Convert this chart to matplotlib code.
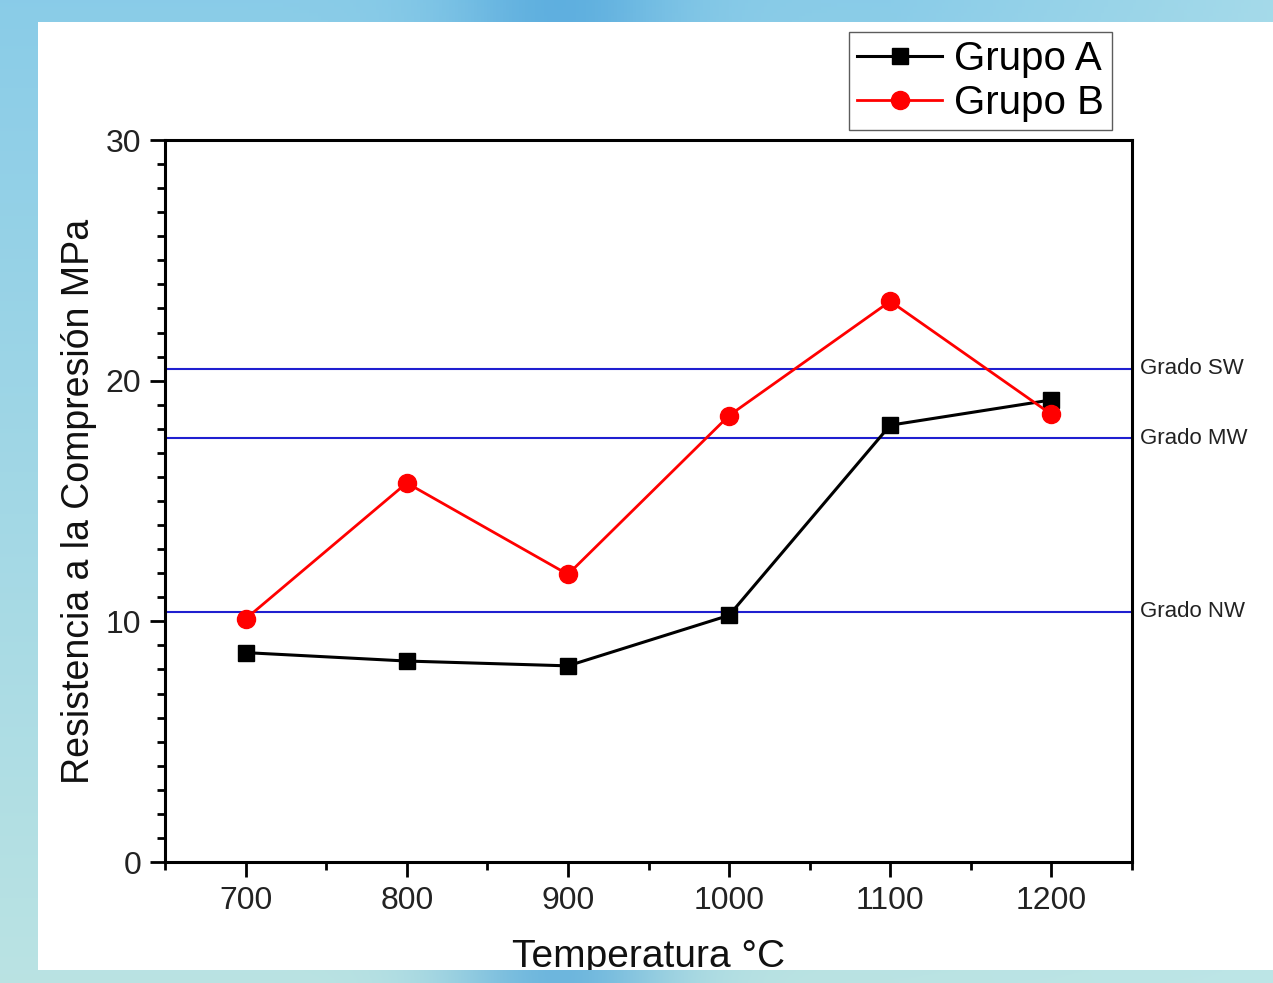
import numpy as np
import matplotlib.pyplot as plt
from matplotlib.patches import Rectangle
from matplotlib.ticker import MultipleLocator
import matplotlib.transforms as mtransforms

plt.rcParams['font.family'] = ['Liberation Sans', 'DejaVu Sans']

# datos
temperatura = [700, 800, 900, 1000, 1100, 1200]
grupo_a = [8.7, 8.35, 8.15, 10.25, 18.15, 19.2]
grupo_b = [10.1, 15.75, 11.95, 18.55, 23.3, 18.6]
grados = ["Grado SW", "Grado MW", "Grado NW"]
grados_valor = [20.5, 17.6, 10.4]

W, H = 1273, 983
fig = plt.figure(figsize=(W / 100, H / 100), dpi=100)

# fondo de la diapositiva (degradado azul)
bg = fig.add_axes([0, 0, 1, 1], zorder=-5)
bg.set_axis_off()
xs = np.linspace(0, 1, 400)
ys = np.linspace(0, 1, 300)
top = np.array([0.54, 0.80, 0.91])
bottom = np.array([0.73, 0.89, 0.89])
img = top[None, None, :] * (1 - ys[:, None, None]) + bottom[None, None, :] * ys[:, None, None]
band = np.exp(-((xs - 0.44) / 0.09) ** 2)
dark = np.array([0.30, 0.64, 0.86])
img = img * (1 - 0.7 * band[None, :, None]) + dark[None, None, :] * 0.7 * band[None, :, None]
right_fade = np.clip((xs - 0.7) / 0.3, 0, 1)
img = img * (1 - 0.5 * right_fade[None, :, None]) + np.array([0.75, 0.91, 0.92]) * 0.5 * right_fade[None, :, None]
bg.imshow(img, extent=[0, 1, 0, 1], aspect='auto', origin='upper')
bg.add_patch(Rectangle((38 / W, 1 - 970 / H), 1, (970 - 22) / H, facecolor='white', edgecolor='none'))
bg.set_xlim(0, 1)
bg.set_ylim(0, 1)

ax = fig.add_axes([165 / W, 1 - 862 / H, (1132 - 165) / W, (862 - 140) / H])

for nombre, v in zip(grados, grados_valor):
    ax.axhline(v, color='#1f1fd0', lw=1.5, zorder=1)
    trans = mtransforms.blended_transform_factory(ax.transAxes, ax.transData)
    ax.text(1.008, v, nombre, transform=trans, fontsize=16, va='center', ha='left', color='#222222')

ax.plot(temperatura, grupo_a, color='black', lw=2.2, marker='s', ms=12, label='Grupo A', zorder=3)
ax.plot(temperatura, grupo_b, color='red', lw=2, marker='o', ms=13, label='Grupo B', zorder=3)

ax.set_xlim(650, 1250)
ax.set_ylim(0, 30)
ax.xaxis.set_major_locator(MultipleLocator(100))
ax.xaxis.set_minor_locator(MultipleLocator(50))
ax.yaxis.set_major_locator(MultipleLocator(10))
ax.yaxis.set_minor_locator(MultipleLocator(1))
ax.tick_params(which='major', direction='out', length=11, width=2, labelsize=23, colors='black', labelcolor='#222222', pad=6)
ax.tick_params(which='minor', direction='out', length=6, width=2)
ax.tick_params(top=False, right=False)
for s in ax.spines.values():
    s.set_linewidth(2.2)

ax.set_xlabel("Temperatura °C", fontsize=28, color='#111111', labelpad=17)
ax.set_ylabel("Resistencia a la Compresión MPa", fontsize=27, color='#111111', labelpad=6)

fig.legend(loc='upper right', bbox_to_anchor=(1112 / W, 1 - 32 / H), fontsize=29, frameon=True,
           fancybox=False, edgecolor='#333333', handlelength=2.1, handletextpad=0.3,
           borderpad=0.2, labelspacing=0.15, borderaxespad=0)

# franja inferior de la diapositiva encima del texto
ov = fig.add_axes([0, 0, 1, 13 / H], zorder=10)
ov.set_axis_off()
ov.imshow(img[-5:], extent=[0, 1, 0, 1], aspect='auto')

fig.savefig("out.png", dpi=100)
